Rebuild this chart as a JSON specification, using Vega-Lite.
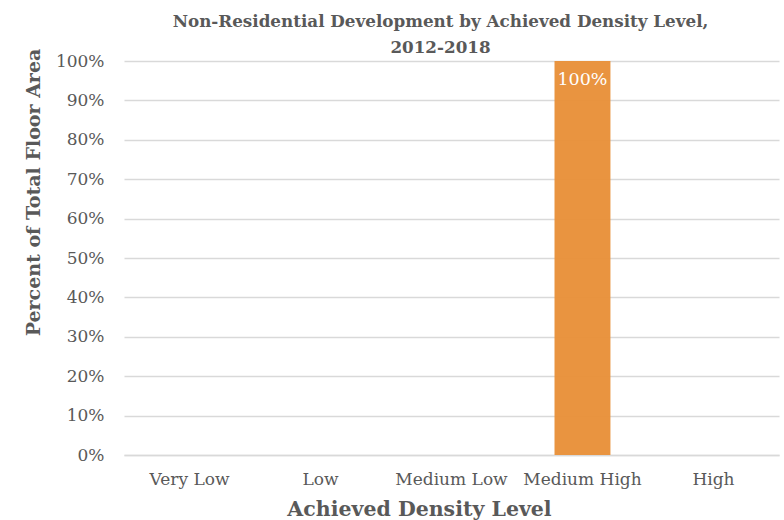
{
  "$schema": "https://vega.github.io/schema/vega-lite/v6.json",
  "width": 655,
  "height": 394,
  "autosize": {"type": "none"},
  "padding": {"left": 124, "top": 61, "right": 5, "bottom": 65},
  "background": "white",
  "config": {
    "font": "DejaVu Serif",
    "view": {"stroke": null}
  },
  "title": {
    "text": ["Non-Residential Development by Achieved Density Level,", "2012-2018"],
    "font": "DejaVu Serif",
    "fontSize": 16.75,
    "fontWeight": "bold",
    "color": "#595959",
    "anchor": "middle",
    "frame": "group",
    "offset": -9,
    "lineHeight": 26,
    "dx": -11
  },
  "data": {
    "values": [
      {"level": "Very Low", "pct": 0},
      {"level": "Low", "pct": 0},
      {"level": "Medium Low", "pct": 0},
      {"level": "Medium High", "pct": 1},
      {"level": "High", "pct": 0}
    ]
  },
  "encoding": {
    "x": {
      "field": "level",
      "type": "nominal",
      "sort": ["Very Low", "Low", "Medium Low", "Medium High", "High"],
      "scale": {"paddingInner": 0.573, "paddingOuter": 0.287},
      "axis": {
        "title": "Achieved Density Level",
        "titleFontSize": 20.5,
        "titleFontWeight": "bold",
        "titleColor": "#595959",
        "titleX": 295,
        "titleY": 60,
        "titleAlign": "center",
        "titleBaseline": "alphabetic",
        "labelAngle": 0,
        "labelFontSize": 17,
        "labelColor": "#595959",
        "labelPadding": 16,
        "labelOverlap": false,
        "ticks": false,
        "domainColor": "#d9d9d9",
        "domainWidth": 1.5
      }
    },
    "y": {
      "field": "pct",
      "type": "quantitative",
      "scale": {"domain": [0, 1]},
      "axis": {
        "title": "Percent of Total Floor Area",
        "titleFontSize": 19,
        "titleFontWeight": "bold",
        "titleColor": "#595959",
        "titleAngle": -90,
        "titleX": -91,
        "titleY": 131,
        "titleAlign": "center",
        "titleBaseline": "middle",
        "format": ".0%",
        "values": [0, 0.1, 0.2, 0.3, 0.4, 0.5, 0.6, 0.7, 0.8, 0.9, 1],
        "labelOverlap": false,
        "labelFontSize": 17,
        "labelColor": "#595959",
        "labelPadding": 20,
        "ticks": false,
        "domain": false,
        "gridColor": "#d9d9d9",
        "gridWidth": 1.5
      }
    }
  },
  "layer": [
    {
      "mark": {"type": "bar", "color": "#E8913A", "opacity": 0.97}
    },
    {
      "transform": [{"filter": "datum.pct > 0"}],
      "mark": {"type": "text", "baseline": "alphabetic", "dy": 24, "color": "white", "fontSize": 17.5},
      "encoding": {
        "text": {"field": "pct", "type": "quantitative", "format": ".0%"}
      }
    }
  ]
}
